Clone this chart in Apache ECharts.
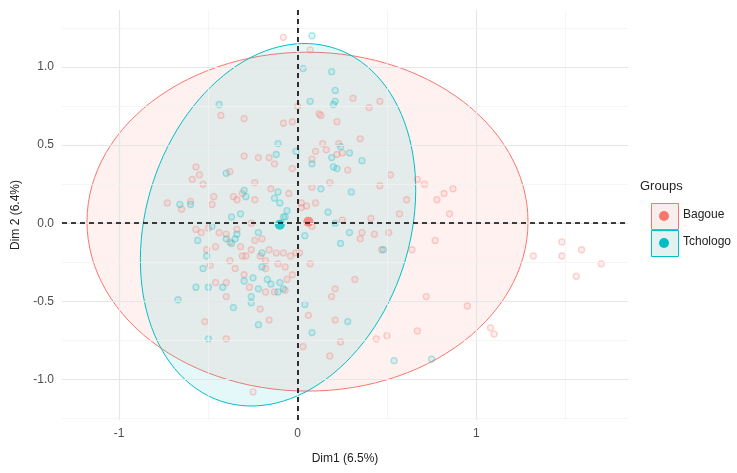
<!DOCTYPE html>
<html>
<head>
	<meta charset="utf-8">
	<title>PCA</title>
	<script src="https://cdn.jsdelivr.net/npm/echarts@6/dist/echarts.min.js"></script>
</head>
<body style="margin:0">
	<div id="echart" style="width:737px;height:473px"></div>
	<script>
	let mychart = echarts.init(document.getElementById('echart'));
	let data = {
		Bagoue: [[-0.08,1.19],[0.00,0.75],[-0.43,0.69],[-0.30,0.67],[-0.08,0.64],[-0.03,0.65],[-0.30,0.43],[-0.22,0.42],[-0.16,0.42],[-0.13,0.38],
			[-0.03,0.35],[-0.57,0.36],[-0.55,0.31],[-0.59,0.28],[-0.53,0.25],[-0.38,0.33],[-0.24,0.26],[-0.15,0.22],[-0.05,0.19],[-0.73,0.13],
			[-0.65,0.09],[-0.60,0.14],[-0.47,0.17],[-0.48,0.12],[-0.36,0.17],[-0.34,0.15],[-0.31,0.19],[-0.24,0.15],[-0.26,0.00],
			[0.07,1.11],[0.12,0.70],[0.13,0.69],[0.22,0.65],[0.31,0.80],[0.40,0.74],[0.46,0.78],[0.14,0.51],[0.23,0.51],[0.35,0.54],
			[0.10,0.46],[0.16,0.47],[0.22,0.44],[0.25,0.45],[0.08,0.41],[0.28,0.34],[0.52,0.31],[0.18,0.26],[0.08,0.23],[0.46,0.24],
			[0.67,0.28],[0.71,0.25],[0.87,0.22],[0.82,0.19],[0.78,0.15],[0.85,0.06],[0.61,0.15],[0.10,0.13],[0.02,0.13],[0.02,0.10],
			[0.05,0.11],[0.57,0.06],[0.41,0.03],[0.25,0.02],
			[-0.57,-0.04],[-0.54,-0.06],[-0.50,-0.03],[-0.44,-0.06],[-0.40,-0.07],[-0.34,-0.04],[-0.24,-0.11],[-0.20,-0.10],[-0.51,-0.17],
			[-0.46,-0.15],[-0.32,-0.15],[-0.38,-0.12],[-0.26,-0.17],[-0.31,-0.21],[-0.29,-0.21],[-0.21,-0.21],[-0.16,-0.17],[-0.12,-0.19],
			[-0.08,-0.19],[-0.04,-0.21],[-0.01,-0.19],[-0.18,-0.24],[-0.18,-0.29],[-0.11,-0.26],[-0.07,-0.28],[-0.03,-0.33],[-0.06,-0.36],
			[-0.38,-0.24],[-0.35,-0.29],[-0.49,-0.27],[-0.30,-0.33],[-0.46,-0.38],[-0.40,-0.38],[-0.27,-0.41],[-0.18,-0.44],[-0.13,-0.44],
			[-0.07,-0.43],[-0.40,-0.47],[-0.21,-0.55],[-0.16,-0.62],[-0.52,-0.63],[-0.40,-0.74],[-0.25,-1.08],
			[0.08,-0.02],[0.36,-0.06],[0.43,-0.07],[0.35,-0.10],[0.51,-0.06],[0.47,-0.17],[0.77,-0.11],[0.64,-0.17],[0.01,-0.19],
			[0.07,-0.26],[0.32,-0.36],[0.21,-0.42],[0.19,-0.47],[0.72,-0.47],[0.95,-0.53],[0.06,-0.59],[0.21,-0.62],[0.24,-0.76],
			[0.03,-0.79],[0.18,-0.85],[0.44,-0.74],[0.50,-0.72],[0.67,-0.69],[1.08,-0.67],[1.10,-0.71],[1.32,-0.21],[1.48,-0.12],
			[1.59,-0.17],[1.48,-0.21],[1.70,-0.26],[1.56,-0.34]],
		Tchologo: [[-0.44,0.76],[-0.11,0.51],[-0.12,0.44],[-0.01,0.46],[-0.40,0.32],[-0.30,0.21],[-0.29,0.17],[-0.11,0.20],[-0.13,0.16],
			[-0.10,0.13],[-0.06,0.08],[-0.07,0.04],[-0.66,0.12],[-0.60,0.12],[-0.37,0.04],[-0.32,0.06],[-0.48,-0.02],
			[0.08,1.20],[0.03,0.99],[0.19,0.97],[0.21,0.85],[0.07,0.78],[0.20,0.76],[0.21,0.78],[0.24,0.49],[0.19,0.42],[0.08,0.38],
			[0.20,0.36],[0.22,0.35],[0.29,0.45],[0.36,0.40],[0.13,0.22],[0.30,0.20],[0.17,0.07],[0.21,0.00],
			[-0.08,0.04],[-0.22,-0.06],[-0.56,-0.11],[-0.40,-0.10],[-0.34,-0.07],[-0.35,-0.10],[-0.37,-0.13],[-0.51,-0.21],[-0.20,-0.19],
			[-0.53,-0.29],[-0.20,-0.28],[-0.57,-0.41],[-0.50,-0.41],[-0.42,-0.41],[-0.30,-0.37],[-0.25,-0.35],[-0.22,-0.42],[-0.17,-0.36],
			[-0.15,-0.39],[-0.10,-0.38],[-0.08,-0.42],[-0.11,-0.44],[-0.26,-0.47],[-0.26,-0.51],[-0.67,-0.49],[-0.36,-0.54],[-0.22,-0.65],
			[-0.50,-0.74],[0.04,-0.08],[0.24,-0.13],[0.29,-0.06],[0.48,-0.17],[0.04,-0.52],[0.28,-0.63],[0.08,-0.70],[0.54,-0.88],[0.75,-0.87]]
	};
	let groups = [
		{name:'Bagoue', color:'#F8766D', mean:[0.06,0.01], u:[1.235,0], v:[0,1.085], c:[0.055,0.01]},
		{name:'Tchologo', color:'#00BFC4', mean:[-0.10,-0.01], u:[0.76,0.03], v:[0.13,1.16], c:[-0.11,-0.01]}
	];
	function rgba(hex, a) {
		let n = parseInt(hex.slice(1), 16);
		return 'rgba(' + (n >> 16) + ',' + ((n >> 8) & 255) + ',' + (n & 255) + ',' + a + ')';
	}
	let gridLines = [];
	[-1,0,1].forEach(function(x){ gridLines.push({xAxis:x, lineStyle:{color:'#E6E6E6', width:1.2, type:'solid'}}); });
	[-0.5,0.5,1.5].forEach(function(x){ gridLines.push({xAxis:x, lineStyle:{color:'#F2F2F2', width:0.8, type:'solid'}}); });
	[-1,-0.5,0,0.5,1].forEach(function(y){ gridLines.push({yAxis:y, lineStyle:{color:'#E6E6E6', width:1.2, type:'solid'}}); });
	[-1.25,-0.75,-0.25,0.25,0.75,1.25].forEach(function(y){ gridLines.push({yAxis:y, lineStyle:{color:'#F2F2F2', width:0.8, type:'solid'}}); });

	let series = [{
		type:'scatter', data:[], silent:true,
		markLine:{symbol:'none', silent:true, label:{show:false}, data:gridLines}
	}];
	groups.forEach(function(g){
		series.push({
			type:'custom', name:g.name, silent:true, z:1,
			data:[0],
			renderItem:function(params, api){
				let pts = [];
				for (let i = 0; i <= 120; i++) {
					let t = i / 120 * Math.PI * 2;
					pts.push(api.coord([g.c[0] + g.u[0]*Math.cos(t) + g.v[0]*Math.sin(t),
						g.c[1] + g.u[1]*Math.cos(t) + g.v[1]*Math.sin(t)]));
				}
				return {type:'polygon', shape:{points:pts},
					style:{fill:rgba(g.color,0.1), stroke:g.color, lineWidth:1}};
			}
		});
	});
	groups.forEach(function(g){
		series.push({
			type:'scatter', name:g.name, data:data[g.name], symbolSize:6, z:3,
			itemStyle:{color:rgba(g.color,0.15), borderColor:rgba(g.color,0.4), borderWidth:1.3}
		});
	});
	groups.forEach(function(g){
		series.push({
			type:'scatter', name:g.name, data:[g.mean], symbolSize:10, z:4,
			itemStyle:{color:g.color}
		});
	});
	series.push({
		type:'scatter', data:[], silent:true, z:5,
		markLine:{symbol:'none', silent:true, label:{show:false},
			lineStyle:{color:'#000', type:[5,4], width:1.6},
			data:[{xAxis:0},{yAxis:0}]}
	});

	let option = {
		animation:false,
		grid:{left:62, right:109, top:10, bottom:53},
		xAxis:{
			type:'value', min:-1.32, max:1.85,
			name:'Dim1 (6.5%)', nameLocation:'middle', nameGap:33,
			nameTextStyle:{color:'#222', fontSize:12, fontFamily:'Liberation Sans'},
			axisLine:{show:false}, splitLine:{show:false},
			axisTick:{show:true, length:3, lineStyle:{color:'#333'}, customValues:[-1,0,1]},
			axisLabel:{color:'#4D4D4D', fontSize:12, fontFamily:'Liberation Sans', customValues:[-1,0,1], margin:8}
		},
		yAxis:{
			type:'value', min:-1.26, max:1.365,
			name:'Dim 2 (6.4%)', nameLocation:'middle', nameGap:40,
			nameTextStyle:{color:'#222', fontSize:12, fontFamily:'Liberation Sans'},
			axisLine:{show:false}, splitLine:{show:false},
			axisTick:{show:true, length:3, lineStyle:{color:'#333'}, customValues:[-1,-0.5,0,0.5,1]},
			axisLabel:{color:'#4D4D4D', fontSize:12, fontFamily:'Liberation Sans', customValues:[-1,-0.5,0,0.5,1],
				formatter:function(v){ return v.toFixed(1); }}
		},
		graphic:[
			{type:'text', left:640, top:180, style:{text:'Groups', fontSize:13, fill:'#222', fontFamily:'Liberation Sans'}},
			{type:'rect', left:651, top:203, shape:{width:27, height:26}, style:{fill:'#F8EEEE', stroke:'#F8766D', lineWidth:1}},
			{type:'circle', left:659, top:211, shape:{r:5}, style:{fill:'#F8766D'}},
			{type:'text', left:683, top:209, style:{text:'Bagoue', fontSize:12, fill:'#222', fontFamily:'Liberation Sans'}},
			{type:'rect', left:651, top:230, shape:{width:27, height:26}, style:{fill:'#E4F1F1', stroke:'#00BFC4', lineWidth:1}},
			{type:'circle', left:659, top:238, shape:{r:5}, style:{fill:'#00BFC4'}},
			{type:'text', left:683, top:236, style:{text:'Tchologo', fontSize:12, fill:'#222', fontFamily:'Liberation Sans'}}
		],
		series:series
	};
	mychart.setOption(option);
	</script>
</body>
</html>
